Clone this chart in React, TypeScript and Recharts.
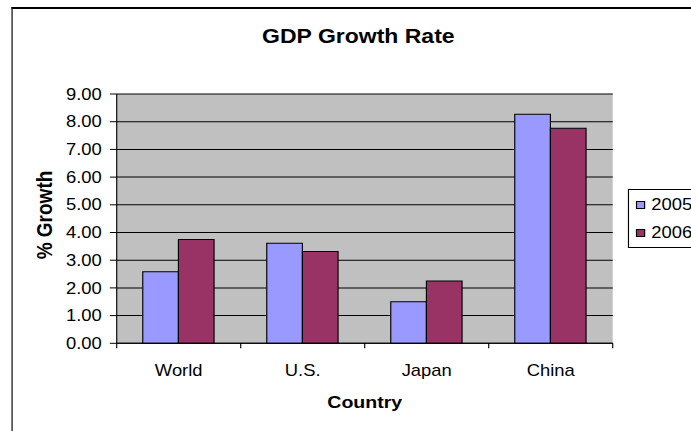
import React from 'react';
import { BarChart, Bar, XAxis, YAxis, CartesianGrid, Legend } from 'recharts';

// ---- data ----
const countries = ['World', 'U.S.', 'Japan', 'China'];
const growth2005 = [2.58, 3.61, 1.5, 8.27];
const growth2006 = [3.75, 3.31, 2.25, 7.76];
const yTicks = [0, 1, 2, 3, 4, 5, 6, 7, 8, 9];
const seriesNames = ['2005', '2006'];
const seriesColors = ['#9999FF', '#993366'];

const data = countries.map((c, i) => ({ country: c, y2005: growth2005[i], y2006: growth2006[i] }));

const FONT = '"Liberation Sans", Arial, Helvetica, sans-serif';
const STRETCH = 1.15;
const W = 601;
const H = 431;
const X_TICK_SIZE = 5;
const X_TICK_MARGIN = 16;

const XTick = (props: any) => {
  const { x, y, payload, index, visibleTicksCount } = props;
  const half = payload && typeof payload.offset === 'number' ? payload.offset : 0;
  const axisY = y - X_TICK_SIZE - X_TICK_MARGIN;
  const isLast = index === (visibleTicksCount ?? countries.length) - 1;
  return (
    <g>
      <line x1={x - half} x2={x - half} y1={axisY} y2={axisY + X_TICK_SIZE} stroke="#000" strokeWidth={1} />
      {isLast && (
        <line x1={x + half} x2={x + half} y1={axisY} y2={axisY + X_TICK_SIZE} stroke="#000" strokeWidth={1} />
      )}
      <text x={x} y={y} dy="0.71em" textAnchor="middle" fill="#000" fontSize={16} fontFamily={FONT}>
        {payload.value}
      </text>
    </g>
  );
};

const LegendBox = (props: any) => {
  const { payload } = props;
  return (
    <div
      style={{
        border: '1px solid #000',
        background: '#fff',
        padding: '0 0 0 6px',
        fontFamily: FONT,
        fontSize: 16,
        color: '#000',
        width: 90,
        boxSizing: 'border-box',
      }}
    >
      {(payload || []).map((p: any) => (
        <div key={p.value} style={{ display: 'flex', alignItems: 'center', height: 28.5 }}>
          <span
            style={{
              display: 'inline-block',
              width: 6,
              height: 6,
              border: '1px solid #000',
              background: p.color,
              marginRight: 5,
            }}
          />
          <span>{p.value}</span>
        </div>
      ))}
    </div>
  );
};

export default function App() {
  return (
    <div
      style={{
        position: 'absolute',
        left: 0,
        top: 0,
        width: W,
        height: H,
        overflow: 'hidden',
        background: '#fff',
        transform: `scaleX(${STRETCH})`,
        transformOrigin: '0 0',
      }}
    >
      <div
        style={{
          position: 'absolute',
          left: 9.6,
          top: 7,
          width: 700,
          height: 500,
          borderLeft: '1.75px solid #000',
          borderTop: '2px solid #000',
        }}
      />
      <BarChart
        width={W}
        height={H}
        data={data}
        margin={{ top: 94, right: 68.2, bottom: 0, left: 0 }}
        barCategoryGap="21%"
        barGap={0}
        style={{ fontFamily: FONT }}
      >
        <CartesianGrid vertical={false} fill="#C0C0C0" fillOpacity={1} stroke="#000" strokeOpacity={1} />
        <XAxis
          dataKey="country"
          height={87.7}
          interval={0}
          tickLine={false}
          tickSize={X_TICK_SIZE}
          tickMargin={X_TICK_MARGIN}
          axisLine={{ stroke: '#000' }}
          tick={<XTick />}
        />
        <XAxis
          xAxisId="top"
          orientation="top"
          dataKey="country"
          height={0}
          tick={false}
          tickLine={false}
          axisLine={{ stroke: '#808080' }}
        />
        <YAxis
          width={101.5}
          domain={[0, 9]}
          ticks={yTicks}
          interval={0}
          tickFormatter={(v: number) => v.toFixed(2)}
          tickSize={6}
          tickMargin={7}
          tickLine={{ stroke: '#000' }}
          axisLine={{ stroke: '#000' }}
          tick={{ fill: '#000', fontSize: 16, fontFamily: FONT }}
        />
        <YAxis
          yAxisId="right"
          orientation="right"
          width={0}
          domain={[0, 9]}
          tick={false}
          tickLine={false}
          axisLine={{ stroke: '#808080' }}
        />
        <Legend
          layout="vertical"
          align="center"
          verticalAlign="middle"
          wrapperStyle={{ left: 546.3, top: 189.3, width: 90 }}
          content={<LegendBox />}
        />
        <Bar dataKey="y2005" name={seriesNames[0]} fill={seriesColors[0]} stroke="#000" strokeWidth={1} isAnimationActive={false} />
        <Bar dataKey="y2006" name={seriesNames[1]} fill={seriesColors[1]} stroke="#000" strokeWidth={1} isAnimationActive={false} />
        <text x={311.6} y={43.3} textAnchor="middle" fontFamily={FONT} fontSize={20} fontWeight="bold" fill="#000">
          GDP Growth Rate
        </text>
        <text x={317.2} y={408.3} textAnchor="middle" fontFamily={FONT} fontSize={17} fontWeight="bold" fill="#000">
          Country
        </text>
        <text
          x={45}
          y={215}
          transform="rotate(-90, 45, 215)"
          textAnchor="middle"
          fontFamily={FONT}
          fontSize={19}
          fontWeight="bold"
          fill="#000"
        >
          % Growth
        </text>
      </BarChart>
    </div>
  );
}
